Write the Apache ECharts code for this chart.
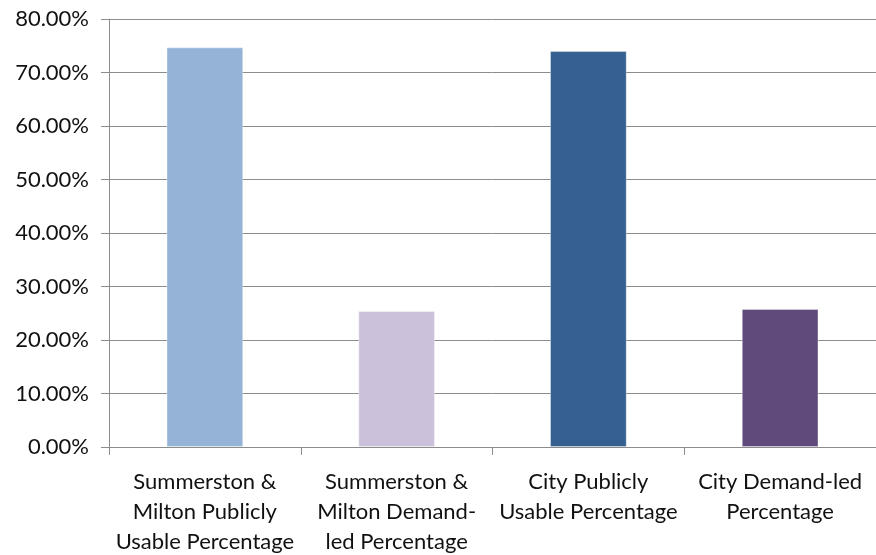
<!DOCTYPE html>
<html>
<head>
<meta charset="utf-8">
<script src="https://cdn.jsdelivr.net/npm/echarts@6/dist/echarts.min.js"></script>
<style>
  html, body { margin: 0; padding: 0; background: #fff; }
  #chart { width: 876px; height: 555px; }
</style>
</head>
<body>
<div id="chart"></div>
<script>
// Share of provision by type, Summerston & Milton vs. City
const categories = [
  'Summerston &\nMilton Publicly\nUsable Percentage',
  'Summerston &\nMilton Demand-\nled Percentage',
  'City Publicly\nUsable Percentage',
  'City Demand-led\nPercentage'
];
const values = [74.7, 25.4, 74.0, 25.8];
const barColors = ['#95B3D7', '#CCC1DA', '#366092', '#604A7B'];
const yTicks = [0, 10, 20, 30, 40, 50, 60, 70, 80];

const font = 'Lato, sans-serif';
const axisGray = '#8C8C8C';

const chart = echarts.init(document.getElementById('chart'));
chart.setOption({
  animation: false,
  grid: { left: 109, right: 0, top: 19, bottom: 108, outerBoundsMode: 'none', containLabel: false },
  xAxis: {
    type: 'category',
    data: categories,
    axisLine: { lineStyle: { color: axisGray, width: 1 } },
    axisTick: { show: true, length: 8, alignWithLabel: false, lineStyle: { color: axisGray } },
    axisLabel: {
      interval: 0,
      margin: 20,
      color: '#111',
      fontFamily: font,
      fontSize: 22,
      lineHeight: 30
    }
  },
  yAxis: {
    type: 'value',
    min: yTicks[0],
    max: yTicks[yTicks.length - 1],
    interval: 10,
    axisLine: { show: true, lineStyle: { color: axisGray, width: 1 } },
    axisTick: { show: true, length: 8, lineStyle: { color: axisGray } },
    splitLine: { lineStyle: { color: axisGray, width: 1 } },
    axisLabel: {
      margin: 20,
      color: '#111',
      fontFamily: font,
      fontSize: 22,
      formatter: v => v.toFixed(2) + '%'
    }
  },
  series: [{
    type: 'bar',
    barWidth: '40%',
    data: values.map((v, i) => ({ value: v, itemStyle: { color: barColors[i] } })),
    itemStyle: { borderColor: 'rgba(255,255,255,0.35)', borderWidth: 1 }
  }]
});
</script>
</body>
</html>
